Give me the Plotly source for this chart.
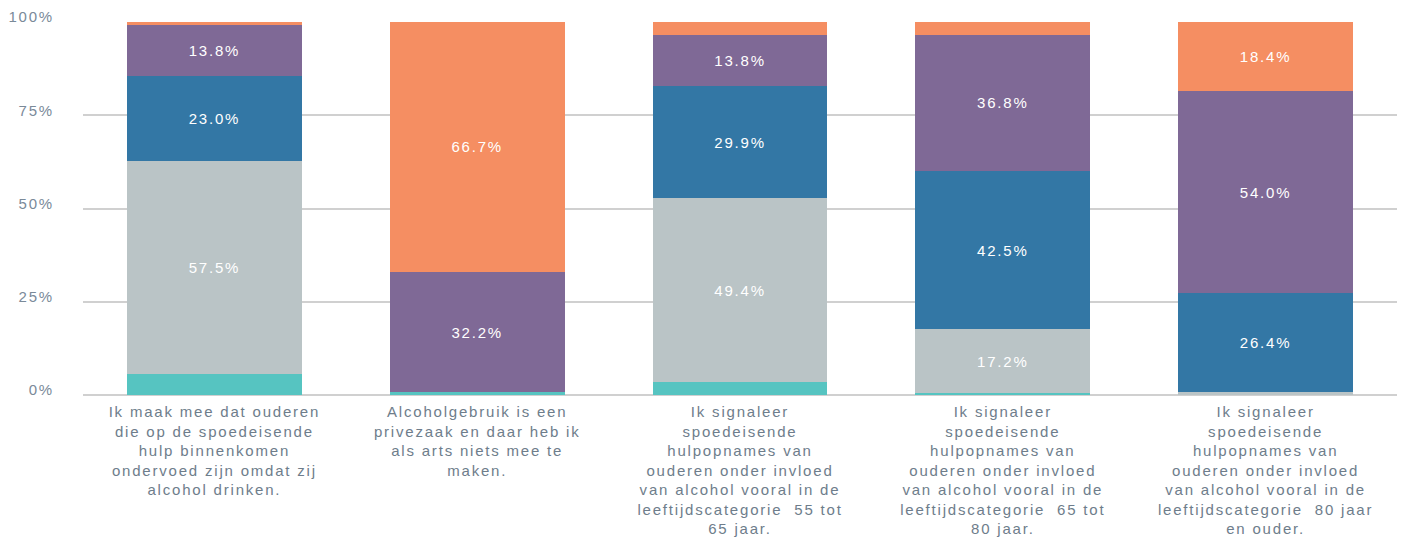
import plotly.graph_objects as go

categories = [
    "Ik maak mee dat ouderen<br>die op de spoedeisende<br>hulp binnenkomen<br>ondervoed zijn omdat zij<br>alcohol drinken.",
    "Alcoholgebruik is een<br>privezaak en daar heb ik<br>als arts niets mee te<br>maken.",
    "Ik signaleer<br>spoedeisende<br>hulpopnames van<br>ouderen onder invloed<br>van alcohol vooral in de<br>leeftijdscategorie  55 tot<br>65 jaar.",
    "Ik signaleer<br>spoedeisende<br>hulpopnames van<br>ouderen onder invloed<br>van alcohol vooral in de<br>leeftijdscategorie  65 tot<br>80 jaar.",
    "Ik signaleer<br>spoedeisende<br>hulpopnames van<br>ouderen onder invloed<br>van alcohol vooral in de<br>leeftijdscategorie  80 jaar<br>en ouder.",
]

series_names = ["Helemaal mee eens", "Mee eens", "Neutraal", "Mee oneens", "Helemaal mee oneens"]
helemaal_mee_eens = [5.7, 0.7, 3.4, 0.5, 0.0]
mee_eens = [57.5, 0.0, 49.4, 17.2, 0.7]
neutraal = [23.0, 0.0, 29.9, 42.5, 26.4]
mee_oneens = [13.8, 32.2, 13.8, 36.8, 54.0]
helemaal_mee_oneens = [0.7, 66.7, 3.4, 3.4, 18.4]

colors = ["#56C4C1", "#BAC4C6", "#3377A5", "#7F6996", "#F58E62"]
series = [helemaal_mee_eens, mee_eens, neutraal, mee_oneens, helemaal_mee_oneens]

FONT = "Liberation Sans, Arial, sans-serif"

fig = go.Figure()
for name, vals, col in zip(series_names, series, colors):
    fig.add_trace(go.Bar(
        x=categories, y=vals, name=name,
        marker=dict(color=col, line=dict(width=0)),
        text=[f"{v:.1f}%" if v >= 10 else "" for v in vals],
        textposition="inside", insidetextanchor="middle", textangle=0,
        textfont=dict(color="white", size=15, family=FONT),
        hoverinfo="skip",
    ))

fig.update_layout(
    barmode="stack", barnorm="percent", bargap=0.335,
    width=1404, height=542,
    margin=dict(l=83, r=7, t=22, b=147),
    plot_bgcolor="white", paper_bgcolor="white",
    showlegend=False,
    font=dict(family=FONT, size=15, color="#71808E"),
)
fig.update_xaxes(showgrid=False, showline=False, ticks="", tickangle=0,
                 automargin=False, ticklabelstandoff=6,
                 tickfont=dict(size=15, color="#6E7D8B"))
fig.update_yaxes(range=[0, 100], tickvals=[0, 25, 50, 75, 100],
                 ticktext=["0%", "25%", "50%", "75%", "100%"],
                 showgrid=True, gridcolor="#D0D0D0", gridwidth=2,
                 zeroline=True, zerolinecolor="#D0D0D0", zerolinewidth=2,
                 automargin=False,
                 ticks="", ticklabelstandoff=28, ticklabelshift=-5,
                 tickfont=dict(size=15, color="#7A8A99"))

post = ("var s=document.createElement('style');"
        "s.textContent='html,body{margin:0;padding:0}.main-svg text{letter-spacing:1.8px}';"
        "document.head.appendChild(s);")
fig.write_html("out.html", post_script=post, config={"displayModeBar": False})
